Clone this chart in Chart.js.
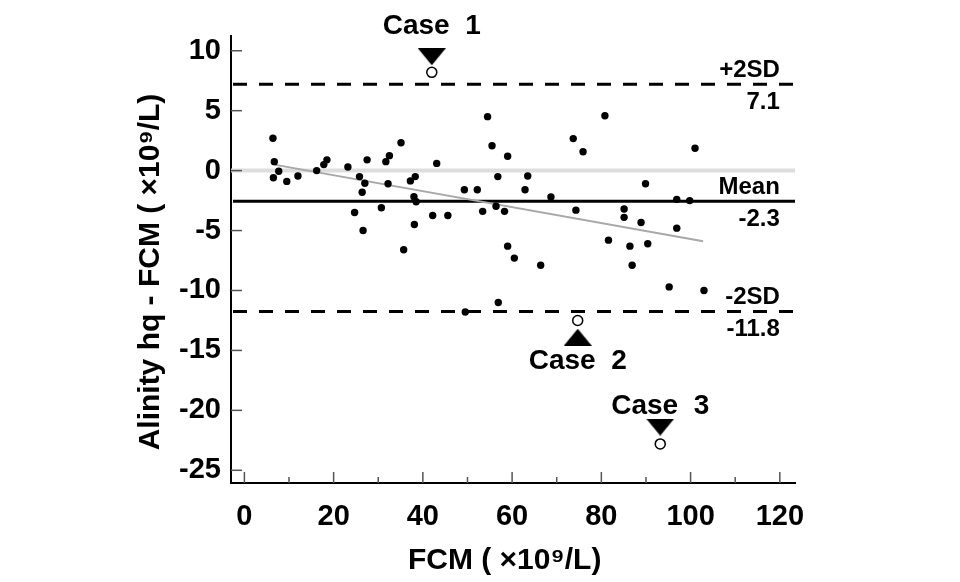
<!DOCTYPE html>
<html>
<head>
<meta charset="utf-8">
<script src="https://cdn.jsdelivr.net/npm/chart.js@4.4.1/dist/chart.umd.min.js"></script>
<style>
html, body { margin: 0; padding: 0; background: #fff; }
#wrap { width: 960px; height: 582px; }
</style>
</head>
<body>
<div id="wrap"><canvas id="chart"></canvas></div>
<script>
// 측정점 (FCM, Alinity hq - FCM)
const fcmX = [6.4, 6.7, 6.5, 7.7, 9.5, 12.0, 16.2, 17.8, 18.5, 23.2, 25.8, 24.7, 26.4, 27.0, 26.6, 27.5,
  30.7, 31.7, 32.5, 32.2, 35.1, 35.7, 37.2, 38.3, 38.0, 38.5, 38.1, 42.2, 43.1, 45.6, 49.3, 52.2,
  53.4, 54.5, 55.5, 56.8, 56.4, 56.9, 49.5, 59.0, 58.3, 63.5, 62.9, 59.0, 60.5, 66.4, 68.7, 74.3,
  73.7, 75.9, 80.8, 81.6, 85.1, 85.1, 86.4, 86.9, 88.9, 89.9, 90.4, 96.9, 99.8, 96.9, 101.0, 95.2, 103.0];
const diffY = [2.7, 0.75, -0.6, -0.05, -0.9, -0.45, 0, 0.5, 0.9, 0.3, -0.5, -3.5, -1.8, -1.05, -5.0, 0.9,
  -3.1, 0.75, 1.25, -1.1, 2.33, -6.6, -0.86, -0.5, -2.17, -2.6, -4.5, -3.75, 0.6, -3.75, -1.6, -1.6,
  -3.4, 4.5, 2.08, -0.5, -2.97, -11.0, -11.8, 1.2, -3.4, -0.45, -1.6, -6.3, -7.3, -7.9, -2.2, -3.3,
  2.67, 1.58, 4.58, -5.8, -3.2, -3.9, -6.3, -7.9, -4.33, -1.1, -6.1, -2.4, -2.5, -4.8, 1.86, -9.7, -10.0];

// 케이스 (빈 원 + 삼각형 + 라벨)
const caseLabels = ['Case  1', 'Case  2', 'Case  3'];
const caseX = [42.0, 74.7, 93.2];
const caseY = [8.2, -12.5, -22.8];
const caseArrowY = [9.5, -13.9, -21.4];
const caseArrowDown = [true, false, true];
const caseLabelY = [12.0, -15.9, -19.7];

// 기준선 (+2SD, Mean, -2SD)
const refValues = [7.2, -2.55, -11.75];
const refDashed = [true, false, true];
const refTopText = ['+2SD', 'Mean', '-2SD'];
const refBottomText = ['7.1', '-2.3', '-11.8'];

// 회귀선
const regX = [6.7, 102.8];
const regY = [0.5, -5.9];

// 눈금
const xTicks = [0, 20, 40, 60, 80, 100, 120];
const xMinorTicks = [10, 30, 50, 70, 90, 110];
const yTicks = [-25, -20, -15, -10, -5, 0, 5, 10];

const FONT = '"Liberation Sans", Arial, sans-serif';

function makeTriangle(down) {
  const c = document.createElement('canvas');
  c.width = 28; c.height = 17;
  const g = c.getContext('2d');
  g.fillStyle = '#000';
  g.beginPath();
  if (down) { g.moveTo(0, 0); g.lineTo(28, 0); g.lineTo(14, 17); }
  else { g.moveTo(14, 0); g.lineTo(28, 17); g.lineTo(0, 17); }
  g.closePath();
  g.fill();
  return c;
}
const triDown = makeTriangle(true);
const triUp = makeTriangle(false);

// 0선, 기준선, 라벨
const refPlugin = {
  id: 'refLines',
  beforeDatasetsDraw(chart) {
    const { ctx, chartArea: a, scales: { y } } = chart;
    ctx.save();
    ctx.strokeStyle = '#dddddd';
    ctx.lineWidth = 4;
    ctx.beginPath();
    ctx.moveTo(a.left, y.getPixelForValue(0));
    ctx.lineTo(a.right, y.getPixelForValue(0));
    ctx.stroke();

    ctx.strokeStyle = '#000';
    ctx.lineWidth = 3;
    refValues.forEach((v, i) => {
      const py = y.getPixelForValue(v);
      ctx.setLineDash(refDashed[i] ? [14, 12] : []);
      ctx.beginPath();
      ctx.moveTo(a.left + 2, py);
      ctx.lineTo(a.right, py);
      ctx.stroke();
    });
    ctx.restore();
  },
  afterDraw(chart) {
    const { ctx, chartArea: a, scales: { x, y } } = chart;
    ctx.save();
    // 안쪽 눈금
    ctx.strokeStyle = '#555';
    ctx.lineWidth = 1.5;
    yTicks.forEach(v => {
      const py = y.getPixelForValue(v);
      ctx.beginPath(); ctx.moveTo(a.left, py); ctx.lineTo(a.left + 11, py); ctx.stroke();
    });
    xTicks.forEach(v => {
      const px = x.getPixelForValue(v);
      ctx.beginPath(); ctx.moveTo(px, a.bottom); ctx.lineTo(px, a.bottom - 11); ctx.stroke();
    });
    xMinorTicks.forEach(v => {
      const px = x.getPixelForValue(v);
      ctx.beginPath(); ctx.moveTo(px, a.bottom); ctx.lineTo(px, a.bottom - 6); ctx.stroke();
    });

    // 기준선 라벨
    ctx.fillStyle = '#000';
    ctx.font = 'bold 24px ' + FONT;
    ctx.textAlign = 'right';
    const rx = x.getPixelForValue(120);
    refValues.forEach((v, i) => {
      const py = y.getPixelForValue(v);
      ctx.textBaseline = 'bottom';
      ctx.fillText(refTopText[i], rx, py - 2);
      ctx.textBaseline = 'top';
      ctx.fillText(refBottomText[i], rx, py + 6);
    });

    // 케이스 라벨
    ctx.font = 'bold 28px ' + FONT;
    ctx.textAlign = 'center';
    ctx.textBaseline = 'middle';
    caseLabels.forEach((t, i) => {
      ctx.fillText(t, x.getPixelForValue(caseX[i]), y.getPixelForValue(caseLabelY[i]));
    });
    ctx.restore();
  }
};

const pts = fcmX.map((v, i) => ({ x: v, y: diffY[i] }));

new Chart(document.getElementById('chart'), {
  type: 'scatter',
  data: {
    datasets: [
      {
        data: caseX.map((v, i) => ({ x: v, y: caseY[i] })),
        pointRadius: 5,
        pointBackgroundColor: '#fff',
        pointBorderColor: '#000',
        pointBorderWidth: 1.5,
        order: 0
      },
      {
        data: caseX.map((v, i) => ({ x: v, y: caseArrowY[i] })),
        pointStyle: caseArrowDown.map(d => d ? triDown : triUp),
        pointRadius: 10,
        order: 1
      },
      {
        data: pts,
        pointRadius: 3.7,
        pointBackgroundColor: '#000',
        pointBorderWidth: 0,
        order: 2
      },
      {
        type: 'line',
        data: regX.map((v, i) => ({ x: v, y: regY[i] })),
        borderColor: '#a8a8a8',
        borderWidth: 2,
        pointRadius: 0,
        order: 3
      }
    ]
  },
  options: {
    responsive: true,
    maintainAspectRatio: false,
    animation: false,
    layout: { padding: { left: 129, right: 165, top: 36, bottom: 0 } },
    plugins: { legend: { display: false }, tooltip: { enabled: false } },
    scales: {
      x: {
        type: 'linear',
        min: -3,
        max: 123.4,
        afterBuildTicks: s => { s.ticks = xTicks.map(v => ({ value: v })); },
        afterFit: s => { s.height = 99; },
        grid: { display: false, drawTicks: false },
        border: { display: true, color: '#000', width: 2 },
        ticks: { autoSkip: false, maxRotation: 0, color: '#000', padding: 17, font: { family: FONT, size: 29, weight: 'bold' } },
        // 뒤쪽 공백으로 제목을 살짝 왼쪽으로
        title: { display: true, text: 'FCM ( ×10⁹/L)  ', color: '#000', padding: { top: 4, bottom: 3 }, font: { family: FONT, size: 30, weight: 'bold' } }
      },
      y: {
        type: 'linear',
        min: -26.06,
        max: 11.23,
        afterBuildTicks: s => { s.ticks = yTicks.map(v => ({ value: v })); },
        afterFit: s => { s.width = 102; },
        grid: { display: false, drawTicks: false },
        border: { display: true, color: '#000', width: 2 },
        ticks: { autoSkip: false, color: '#000', padding: 10, font: { family: FONT, size: 29, weight: 'bold' } },
        title: { display: true, text: 'Alinity hq - FCM ( ×10⁹/L)   ', color: '#000', font: { family: FONT, size: 30, weight: 'bold' } }
      }
    }
  },
  plugins: [refPlugin]
});
</script>
</body>
</html>
